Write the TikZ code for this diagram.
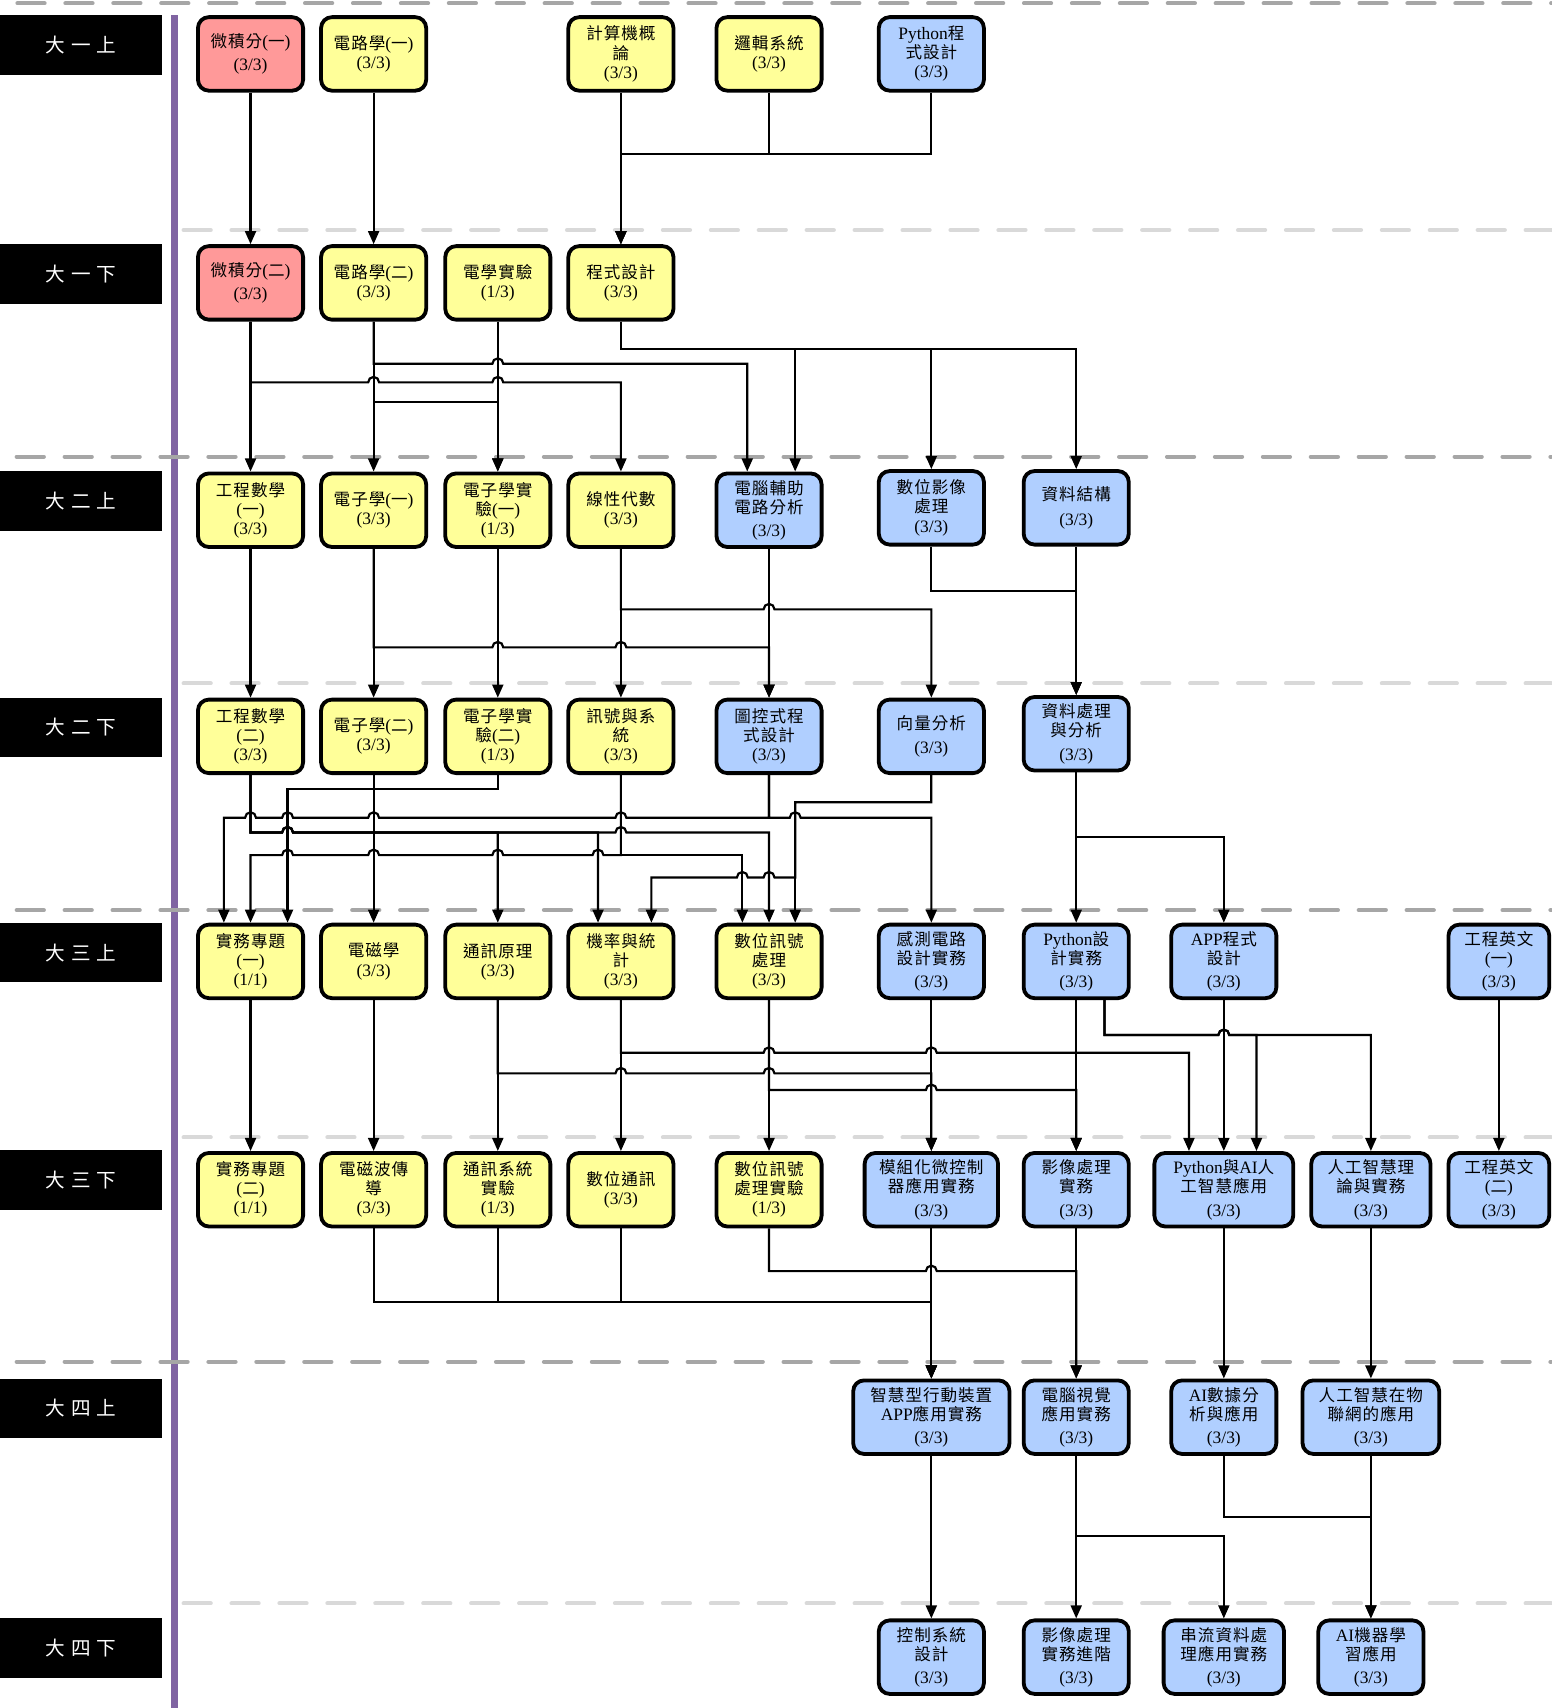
\documentclass[tikz,border=0pt]{standalone}
\usepackage{fontspec}
\setmainfont{Liberation Serif}
\newfontfamily\cjkfont[Scale=0.95,LetterSpace=6]{Noto Sans CJK TC}
\newfontfamily\labelfont[LetterSpace=30]{Noto Sans CJK TC}
\usetikzlibrary{arrows.meta}

% Latin text in Liberation Serif, Han characters in Noto Sans CJK TC
\XeTeXinterchartokenstate=1
\newXeTeXintercharclass\cjkclass
\newcount\cjkcode
\cjkcode="4E00
\loop
	\XeTeXcharclass\cjkcode=\cjkclass
	\advance\cjkcode by 1
\ifnum\cjkcode<"A000 \repeat
\XeTeXcharclass`(=0 \XeTeXcharclass`)=0 \XeTeXcharclass`/=0
\XeTeXinterchartoks 0 \cjkclass = {\cjkfont}
\XeTeXinterchartoks 4095 \cjkclass = {\cjkfont}
\XeTeXinterchartoks \cjkclass 0 = {\rmfamily}
\XeTeXinterchartoks \cjkclass 4095 = {\rmfamily}

\newcommand\semfont{\XeTeXinterchartokenstate=0 \labelfont\fontsize{18}{20}\selectfont}

\definecolor{courseRed}{RGB}{255,153,153}
\definecolor{courseYellow}{RGB}{255,255,153}
\definecolor{courseBlue}{RGB}{176,207,255}
\definecolor{axisPurple}{RGB}{128,100,162}
\definecolor{sepDark}{RGB}{166,166,166}
\definecolor{sepLight}{RGB}{217,217,217}

\begin{document}
\begin{tikzpicture}[%
			x=1pt, y=-1pt,
			every node/.style={align=center},
			course/.style={draw=black, line width=3.5pt, rounded corners=10pt, minimum width=96.5pt, minimum height=67.5pt, inner sep=1pt, font=\fontsize{16}{17.5}\selectfont},
			req/.style={course, fill=courseRed},
			yel/.style={course, fill=courseYellow},
			sel/.style={course, fill=courseBlue},
			sem/.style={fill=black, text=white, minimum width=148.7pt, minimum height=54.8pt, inner sep=0pt, font=\semfont},
			arr/.style={line width=2pt, -{Triangle[width=10pt,length=12pt]}},
			hop/.style={insert path={arc[start angle=180, end angle=0, radius=5pt]}},
			hopl/.style={insert path={arc[start angle=0, end angle=180, radius=5pt]}},
			yearline/.style={draw=sepDark, line width=3.7pt, line cap=round, dash pattern=on 25pt off 19pt},
			termline/.style={draw=sepLight, line width=3.7pt, line cap=round, dash pattern=on 25pt off 19pt}
			]
			\useasboundingbox (0,0) rectangle (1424,1568);

			\draw[axisPurple, line width=6.5pt] (160.5,13.8) -- (160.5,1568);

			\draw[yearline] (16,3) -- (1424,3);
			\draw[termline] (168.5,211.2) -- (1424,211.2);
			\draw[yearline] (15.3,419.3) -- (1424,419.3);
			\draw[termline] (168.5,627.4) -- (1424,627.4);
			\draw[yearline] (15.3,835.5) -- (1424,835.5);
			\draw[termline] (168.5,1044.2) -- (1424,1044.2);
			\draw[yearline] (15.3,1250.2) -- (1424,1250.2);
			\draw[termline] (168.5,1472) -- (1424,1472);

			\node[sem] (s1) at (74.3,41.2) {大一上};
			\node[sem] (s2) at (74.3,251.4) {大一下};
			\node[sem] (s3) at (74.3,459.8) {大二上};
			\node[sem] (s4) at (74.3,667.9) {大二下};
			\node[sem] (s5) at (74.3,874.5) {大三上};
			\node[sem] (s6) at (74.3,1083.2) {大三下};
			\node[sem] (s7) at (74.3,1292.9) {大四上};
			\node[sem] (s8) at (74.3,1513.2) {大四下};

			\node[req] (calc1) at (230,49.5) {微積分(一)\\[4pt](3/3)};
			\node[yel] (circ1) at (343,49.5) {電路學(一)\\(3/3)};
			\node[yel] (intro) at (570,49.5) {計算機概\\論\\(3/3)};
			\node[yel] (logic) at (706,49.5) {邏輯系統\\(3/3)};
			\node[sel] (pyprog) at (855,49.5) {Python程\\式設計\\(3/3)};

			\node[req] (calc2) at (230,259.7) {微積分(二)\\[4pt](3/3)};
			\node[yel] (circ2) at (343,259.7) {電路學(二)\\(3/3)};
			\node[yel] (elab) at (457,259.7) {電學實驗\\(1/3)};
			\node[yel] (prog) at (570,259.7) {程式設計\\(3/3)};

			\node[yel] (emath1) at (230,468.4) {工程數學\\(一)\\(3/3)};
			\node[yel] (elec1) at (343,468.4) {電子學(一)\\(3/3)};
			\node[yel] (elab1) at (457,468.4) {電子學實\\驗(一)\\(1/3)};
			\node[yel] (linalg) at (570,468.4) {線性代數\\(3/3)};
			\node[sel] (cad) at (706,468.4) {電腦輔助\\電路分析\\[4pt](3/3)};
			\node[sel] (dip) at (855,466.2) {數位影像\\處理\\(3/3)};
			\node[sel] (ds) at (988,466.2) {資料結構\\[5pt](3/3)};

			\node[yel] (emath2) at (230,676) {工程數學\\(二)\\(3/3)};
			\node[yel] (elec2) at (343,676) {電子學(二)\\(3/3)};
			\node[yel] (elab2) at (457,676) {電子學實\\驗(二)\\(1/3)};
			\node[yel] (sigsys) at (570,676) {訊號與系\\統\\(3/3)};
			\node[sel] (graph) at (706,676) {圖控式程\\式設計\\(3/3)};
			\node[sel] (vec) at (855,676) {向量分析\\[5pt](3/3)};
			\node[sel] (dproc) at (988,673.6) {資料處理\\與分析\\[4pt](3/3)};

			\node[yel] (proj1) at (230,882.6) {實務專題\\(一)\\(1/1)};
			\node[yel] (emag) at (343,882.6) {電磁學\\(3/3)};
			\node[yel] (comm) at (457,882.6) {通訊原理\\(3/3)};
			\node[yel] (prob) at (570,882.6) {機率與統\\計\\(3/3)};
			\node[yel] (dsp) at (706,882.6) {數位訊號\\處理\\(3/3)};
			\node[sel] (sense) at (855,882.6) {感測電路\\設計實務\\[4pt](3/3)};
			\node[sel] (pydes) at (988,882.6) {Python設\\計實務\\[4pt](3/3)};
			\node[sel] (app) at (1123.5,882.6) {APP程式\\設計\\[4pt](3/3)};
			\node[sel, minimum width=92.5pt] (eng1) at (1376,882.6) {工程英文\\(一)\\[4pt](3/3)};

			\node[yel] (proj2) at (230,1092.2) {實務專題\\(二)\\(1/1)};
			\node[yel] (wave) at (343,1092.2) {電磁波傳\\導\\(3/3)};
			\node[yel] (commlab) at (457,1092.2) {通訊系統\\實驗\\(1/3)};
			\node[yel] (dcomm) at (570,1092.2) {數位通訊\\(3/3)};
			\node[yel] (dsplab) at (706,1092.2) {數位訊號\\處理實驗\\(1/3)};
			\node[sel, minimum width=122.5pt] (mcu) at (855,1092.2) {模組化微控制\\器應用實務\\[4pt](3/3)};
			\node[sel] (imgp) at (988,1092.2) {影像處理\\實務\\[4pt](3/3)};
			\node[sel, minimum width=127.5pt] (pyai) at (1123.5,1092.2) {Python與AI人\\工智慧應用\\[4pt](3/3)};
			\node[sel, minimum width=109.5pt] (aith) at (1258.5,1092.2) {人工智慧理\\論與實務\\[4pt](3/3)};
			\node[sel, minimum width=92.5pt] (eng2) at (1376,1092.2) {工程英文\\(二)\\[4pt](3/3)};

			\node[sel, minimum width=143.5pt] (smart) at (855,1301) {智慧型行動裝置\\APP應用實務\\[4pt](3/3)};
			\node[sel] (cv) at (988,1301) {電腦視覺\\應用實務\\[4pt](3/3)};
			\node[sel] (aida) at (1123.5,1301) {AI數據分\\析與應用\\[4pt](3/3)};
			\node[sel, minimum width=125.5pt] (aiot) at (1258.5,1301) {人工智慧在物\\聯網的應用\\[4pt](3/3)};

			\node[sel] (ctrl) at (855,1521.3) {控制系統\\設計\\[4pt](3/3)};
			\node[sel] (imgadv) at (988,1521.3) {影像處理\\實務進階\\[4pt](3/3)};
			\node[sel, minimum width=110.5pt] (stream) at (1123.5,1521.3) {串流資料處\\理應用實務\\[4pt](3/3)};
			\node[sel] (ml) at (1258.5,1521.3) {AI機器學\\習應用\\[4pt](3/3)};

			\draw[arr] (calc1) -- (calc2);
			\draw[arr] (circ1) -- (circ2);
			\draw[arr] (intro) -- (prog);
			\draw[arr] (logic) |- (570,141.4) -- (prog);
			\draw[arr] (pyprog) |- (570,141.4) -- (prog);

			\draw[arr] (calc2) -- (emath1);
			\draw[arr] (calc2) |- (338,351) [hop] -- (452,351) [hop] -| (linalg);
			\draw[arr] (circ2) -- (elec1);
			\draw[arr] (circ2) |- (457,368.8) -- (elab1);
			\draw[arr] (circ2) |- (452,334) [hop] -| ([xshift=-20pt]cad.north);
			\draw[arr] (elab) -- (elab1);
			\draw[arr] (prog) |- (730,320.7) -- ([xshift=24pt]cad.north);
			\draw[arr] (prog) |- (855,320.7) -- (dip);
			\draw[arr] (prog) |- (988,320.7) -- (ds);

			\draw[arr] (emath1) -- (emath2);
			\draw[arr] (elec1) -- (elec2);
			\draw[arr] (elec1) |- (452,594.3) [hop] -- (565,594.3) [hop] -| (graph);
			\draw[arr] (elab1) -- (elab2);
			\draw[arr] (linalg) -- (sigsys);
			\draw[arr] (linalg) |- (701,559.4) [hop] -| (vec);
			\draw[arr] (cad) -- (graph);
			\draw[arr] (dip) |- (988,542.3) -- (dproc);
			\draw[arr] (ds) -- (dproc);

			\draw[arr] (elab2) |- (264,724.4) -- ([xshift=34pt]proj1.north);
			\draw[arr] (graph) |- (575,750.7) [hopl] -- (348,750.7) [hopl] -- (269,750.7) [hopl] -- (235,750.7) [hopl] -| ([xshift=-24.5pt]proj1.north);
			\draw[arr] (graph) |- (725,750.7) [hop] -| (sense);
			\draw[arr] (vec) |- (730,736.6) -- ([xshift=24pt]dsp.north);
			\draw[arr] (vec) |- (730,736.6) -- (730,805.5) -- (711,805.5) [hopl] -- (686.5,805.5) [hopl] -| ([xshift=28pt]prob.north);
			\draw[arr] (emath2) |- (259,764.2) [hop] -| (comm);
			\draw[arr] (emath2) |- (259,764.2) [hop] -| ([xshift=-21pt]prob.north);
			\draw[arr] (emath2) |- (259,764.2) [hop] -- (565,764.2) [hop] -| (dsp);
			\draw[arr] (sigsys) |- (554,785) [hopl] -- (462,785) [hopl] -- (348,785) [hopl] -- (269,785) [hopl] -| (proj1);
			\draw[arr] (sigsys) |- (681.5,785) -- ([xshift=-24.5pt]dsp.north);
			\draw[arr] (elec2) -- (emag);
			\draw[arr] (dproc) -- (pydes);
			\draw[arr] (dproc) |- (1123.5,768.2) -- (app);

			\draw[arr] (proj1) -- (proj2);
			\draw[arr] (emag) -- (wave);
			\draw[arr] (comm) -- (commlab);
			\draw[arr] (comm) |- (565,985.4) [hop] -- (701,985.4) [hop] -- (855,985.4) -- (mcu);
			\draw[arr] (prob) -- (dcomm);
			\draw[arr] (prob) |- (701,966.5) [hop] -- (850,966.5) [hop] -| ([xshift=-32pt]pyai.north);
			\draw[arr] (dsp) -- (dsplab);
			\draw[arr] (dsp) |- (850,1000.7) [hop] -- (988,1000.7) -- (imgp);
			\draw[arr] (sense) -- (mcu);
			\draw[arr] (pydes) -- (imgp);
			\draw[arr] ([xshift=26pt]pydes.south) |- (1118.5,950.2) [hop] -| ([xshift=30pt]pyai.north);
			\draw[arr] ([xshift=26pt]pydes.south) |- (1118.5,950.2) [hop] -| (aith);
			\draw[arr] (app) -- (pyai);
			\draw[arr] (eng1) -- (eng2);

			\draw[arr] (wave) |- (855,1195.1) -- (smart);
			\draw[arr] (commlab) |- (855,1195.1) -- (smart);
			\draw[arr] (dcomm) |- (855,1195.1) -- (smart);
			\draw[arr] (dsplab) |- (850,1166.9) [hop] -- (988,1166.9) -- (cv);
			\draw[arr] (mcu) -- (smart);
			\draw[arr] (imgp) -- (cv);
			\draw[arr] (pyai) -- (aida);
			\draw[arr] (aith) -- (aiot);

			\draw[arr] (smart) -- (ctrl);
			\draw[arr] (cv) -- (imgadv);
			\draw[arr] (cv) |- (1123.5,1410) -- (stream);
			\draw[arr] (aida) |- (1258.5,1392.5) -- (ml);
			\draw[arr] (aiot) -- (ml);
		\end{tikzpicture}
\end{document}
